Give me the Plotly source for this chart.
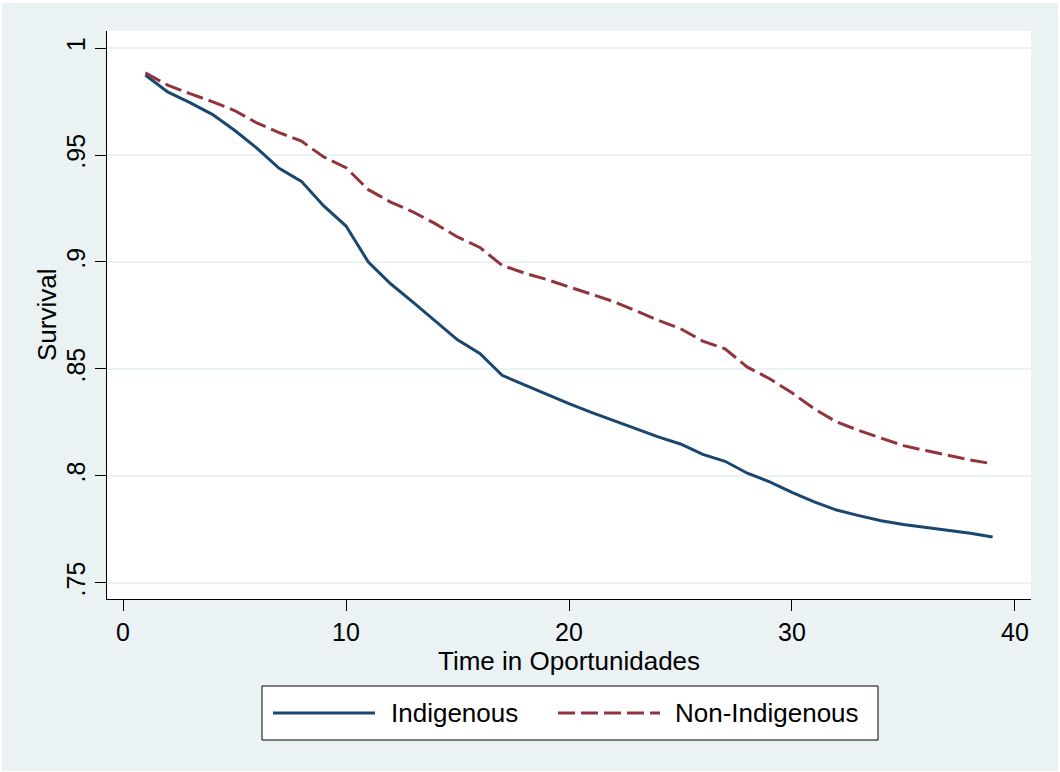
import plotly.graph_objects as go

time = list(range(1, 40))
indigenous = [0.9874, 0.9795, 0.9745, 0.9690, 0.9616, 0.9532, 0.9438, 0.9377, 0.9262, 0.9168,
              0.9000, 0.8898, 0.8812, 0.8722, 0.8636, 0.8572, 0.8470, 0.8425, 0.8380, 0.8338,
              0.8297, 0.8258, 0.8220, 0.8182, 0.8149, 0.8100, 0.8068, 0.8012, 0.7972, 0.7923,
              0.7878, 0.7840, 0.7814, 0.7790, 0.7772, 0.7759, 0.7746, 0.7731, 0.7714]
non_indigenous = [0.9884, 0.9827, 0.9787, 0.9750, 0.9708, 0.9650, 0.9605, 0.9565, 0.9491, 0.9441,
                  0.9338, 0.9280, 0.9234, 0.9179, 0.9117, 0.9068, 0.8984, 0.8948, 0.8918, 0.8884,
                  0.8848, 0.8815, 0.8772, 0.8727, 0.8688, 0.8630, 0.8594, 0.8508, 0.8454, 0.8388,
                  0.8313, 0.8252, 0.8212, 0.8177, 0.8141, 0.8118, 0.8095, 0.8074, 0.8056]
series_names = ["Indigenous", "Non-Indigenous"]
y_ticks = [0.75, 0.8, 0.85, 0.9, 0.95, 1.0]
y_tick_text = [".75", ".8", ".85", ".9", ".95", "1"]
x_ticks = [0, 10, 20, 30, 40]

BG = "#EAF2F3"
BLUE = "#1A476F"
RED = "#90353B"
DASH = "17px,6px"
FONT = "Arial, Liberation Sans, sans-serif"

fig = go.Figure()
fig.add_trace(go.Scatter(x=time, y=indigenous, mode="lines", name=series_names[0],
                         line=dict(color=BLUE, width=3)))
fig.add_trace(go.Scatter(x=time, y=non_indigenous, mode="lines", name=series_names[1],
                         line=dict(color=RED, width=3, dash=DASH)))

L, R, T, B = 107, 29, 31, 173
W, H = 1060, 772
pw, ph = W - L - R, H - T - B


def px(x):
    return (x - L) / pw


def py(y):
    return (T + ph - y) / ph


shapes = [
    dict(type="rect", xref="paper", yref="paper", layer="below",
         x0=px(2), x1=px(1058), y0=py(771), y1=py(3), fillcolor=BG, line=dict(width=0)),
    dict(type="rect", xref="paper", yref="paper", layer="below",
         x0=0, x1=1, y0=0, y1=1, fillcolor="white", line=dict(width=0)),
    # legend box
    dict(type="rect", xref="paper", yref="paper", layer="above",
         x0=px(262), x1=px(878), y0=py(740), y1=py(686), fillcolor="white",
         line=dict(color="black", width=1)),
    dict(type="line", xref="paper", yref="paper", layer="above",
         x0=px(273), x1=px(375), y0=py(713), y1=py(713), line=dict(color=BLUE, width=3)),
    dict(type="line", xref="paper", yref="paper", layer="above",
         x0=px(558), x1=px(660), y0=py(713), y1=py(713), line=dict(color=RED, width=3, dash=DASH)),
]

annotations = [
    dict(text=series_names[0], xref="paper", yref="paper", x=px(389), y=py(713),
         xanchor="left", yanchor="middle", showarrow=False, font=dict(size=26)),
    dict(text=series_names[1], xref="paper", yref="paper", x=px(673), y=py(713),
         xanchor="left", yanchor="middle", showarrow=False, font=dict(size=26)),
    dict(text="Time in Oportunidades", xref="paper", yref="paper", x=0.5, y=py(661),
         xanchor="center", yanchor="middle", showarrow=False, font=dict(size=26)),
    dict(text="Survival", xref="paper", yref="paper", x=px(47), y=0.5, textangle=-90,
         xanchor="center", yanchor="middle", showarrow=False, font=dict(size=26)),
]

fig.update_layout(
    width=W, height=H,
    margin=dict(l=L, r=R, t=T, b=B, autoexpand=False),
    paper_bgcolor="white",
    plot_bgcolor="white",
    font=dict(family=FONT, size=25, color="black"),
    showlegend=False,
    shapes=shapes,
    annotations=annotations,
)

fig.update_xaxes(
    range=[-0.72, 40.72], tickvals=x_ticks, ticks="outside", ticklen=11, tickwidth=1,
    tickcolor="black", showline=True, linecolor="black", linewidth=1, mirror=False,
    showgrid=False, zeroline=False, tickfont=dict(size=25), automargin=False,
)
fig.update_yaxes(
    range=[0.7424, 1.008], tickvals=y_ticks, ticktext=y_tick_text, tickangle=-90,
    ticks="outside", ticklen=11, tickwidth=1, tickcolor="black",
    showline=True, linecolor="black", linewidth=1, mirror=False,
    showgrid=True, gridcolor=BG, gridwidth=2, zeroline=False, tickfont=dict(size=25),
    automargin=False,
)

fig.write_html("out.html")
